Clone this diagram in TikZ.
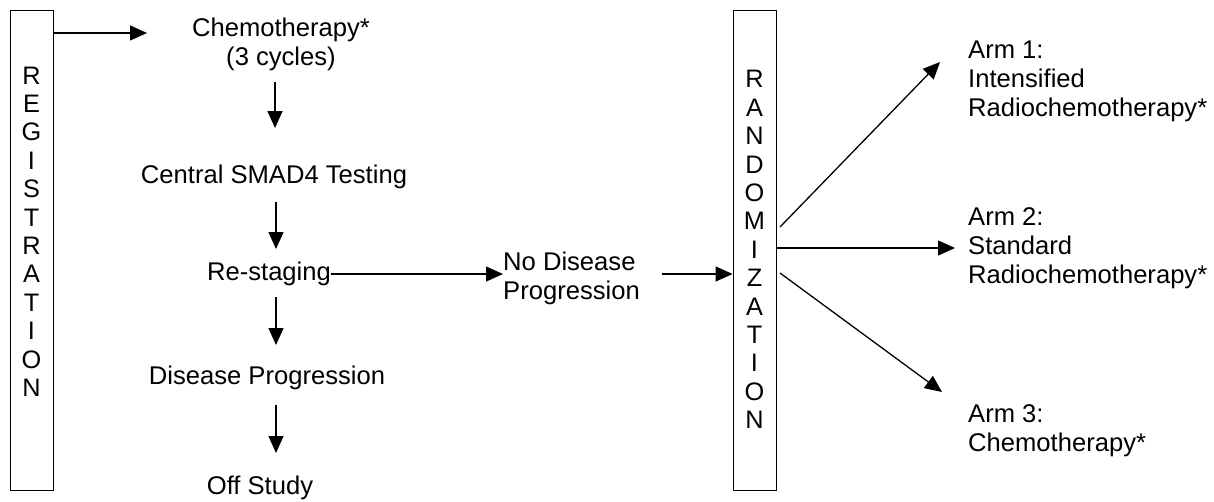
\documentclass[tikz,border=0pt]{standalone}
\usepackage{fontspec}
\setmainfont{Liberation Sans}
\usetikzlibrary{arrows.meta}
\tikzset{
  txt/.style={inner sep=0pt, font=\fontsize{25.6}{29}\selectfont, align=center},
  lefttxt/.style={txt, align=left, anchor=west},
  column/.style={draw, line width=0.9pt, minimum width=43pt, minimum height=480pt, inner sep=0pt},
  letters/.style={inner sep=0pt, font=\fontsize{25.3}{28.4}\selectfont, align=center},
  arr/.style={line width=1.3pt, -{Triangle[length=17pt,width=15pt]}}
}
\begin{document}
\begin{tikzpicture}[x=1pt,y=-1pt]
\useasboundingbox (0,0) rectangle (1214,501);

% enrolment column
\node[column] (reg) at (31.5,250) {};
\node[letters] (regtxt) at (31.5,231.5) {R\\E\\G\\I\\S\\T\\R\\A\\T\\I\\O\\N};

% pre-randomisation steps
\node[txt] (chemo) at (281,44) {Chemotherapy*\\(3 cycles)};
\node[txt] (central) at (274,177) {Central SMAD4 Testing};
\node[txt] (restage) at (269,274) {Re-staging};
\node[txt] (prog) at (267,378) {Disease Progression};
\node[txt] (off) at (260,488) {Off Study};
\node[lefttxt] (nodis) at (503,278) {No Disease\\Progression};

% randomisation column
\node[column] (rand) at (754.5,250) {};
\node[letters] (randtxt) at (754.5,249.5) {R\\A\\N\\D\\O\\M\\I\\Z\\A\\T\\I\\O\\N};

% treatment arms
\node[lefttxt] (arm1) at (968,81) {Arm 1:\\Intensified\\Radiochemotherapy*};
\node[lefttxt] (arm2) at (968,248) {Arm 2:\\Standard\\Radiochemotherapy*};
\node[lefttxt] (arm3) at (968,431) {Arm 3:\\Chemotherapy*};

% connectors
\coordinate (c1) at (147,33);
\draw[arr] (reg.east |- c1) -- (c1);
\draw[arr] (275,82) -- (275,128);
\draw[arr] (276,202) -- (276,249);
\draw[arr] (276,297) -- (276,345);
\draw[arr] (276,405) -- (276,453);
\draw[arr] (restage.east) -- (nodis.west |- restage.east);
\draw[arr] (662,274) -- (rand.west |- 0,274);
\draw[arr] (780,227) -- (940,62);
\draw[arr] (rand.east |- 0,248) -- (955,248);
\draw[arr] (780,273) -- (942,392);
\end{tikzpicture}
\end{document}
